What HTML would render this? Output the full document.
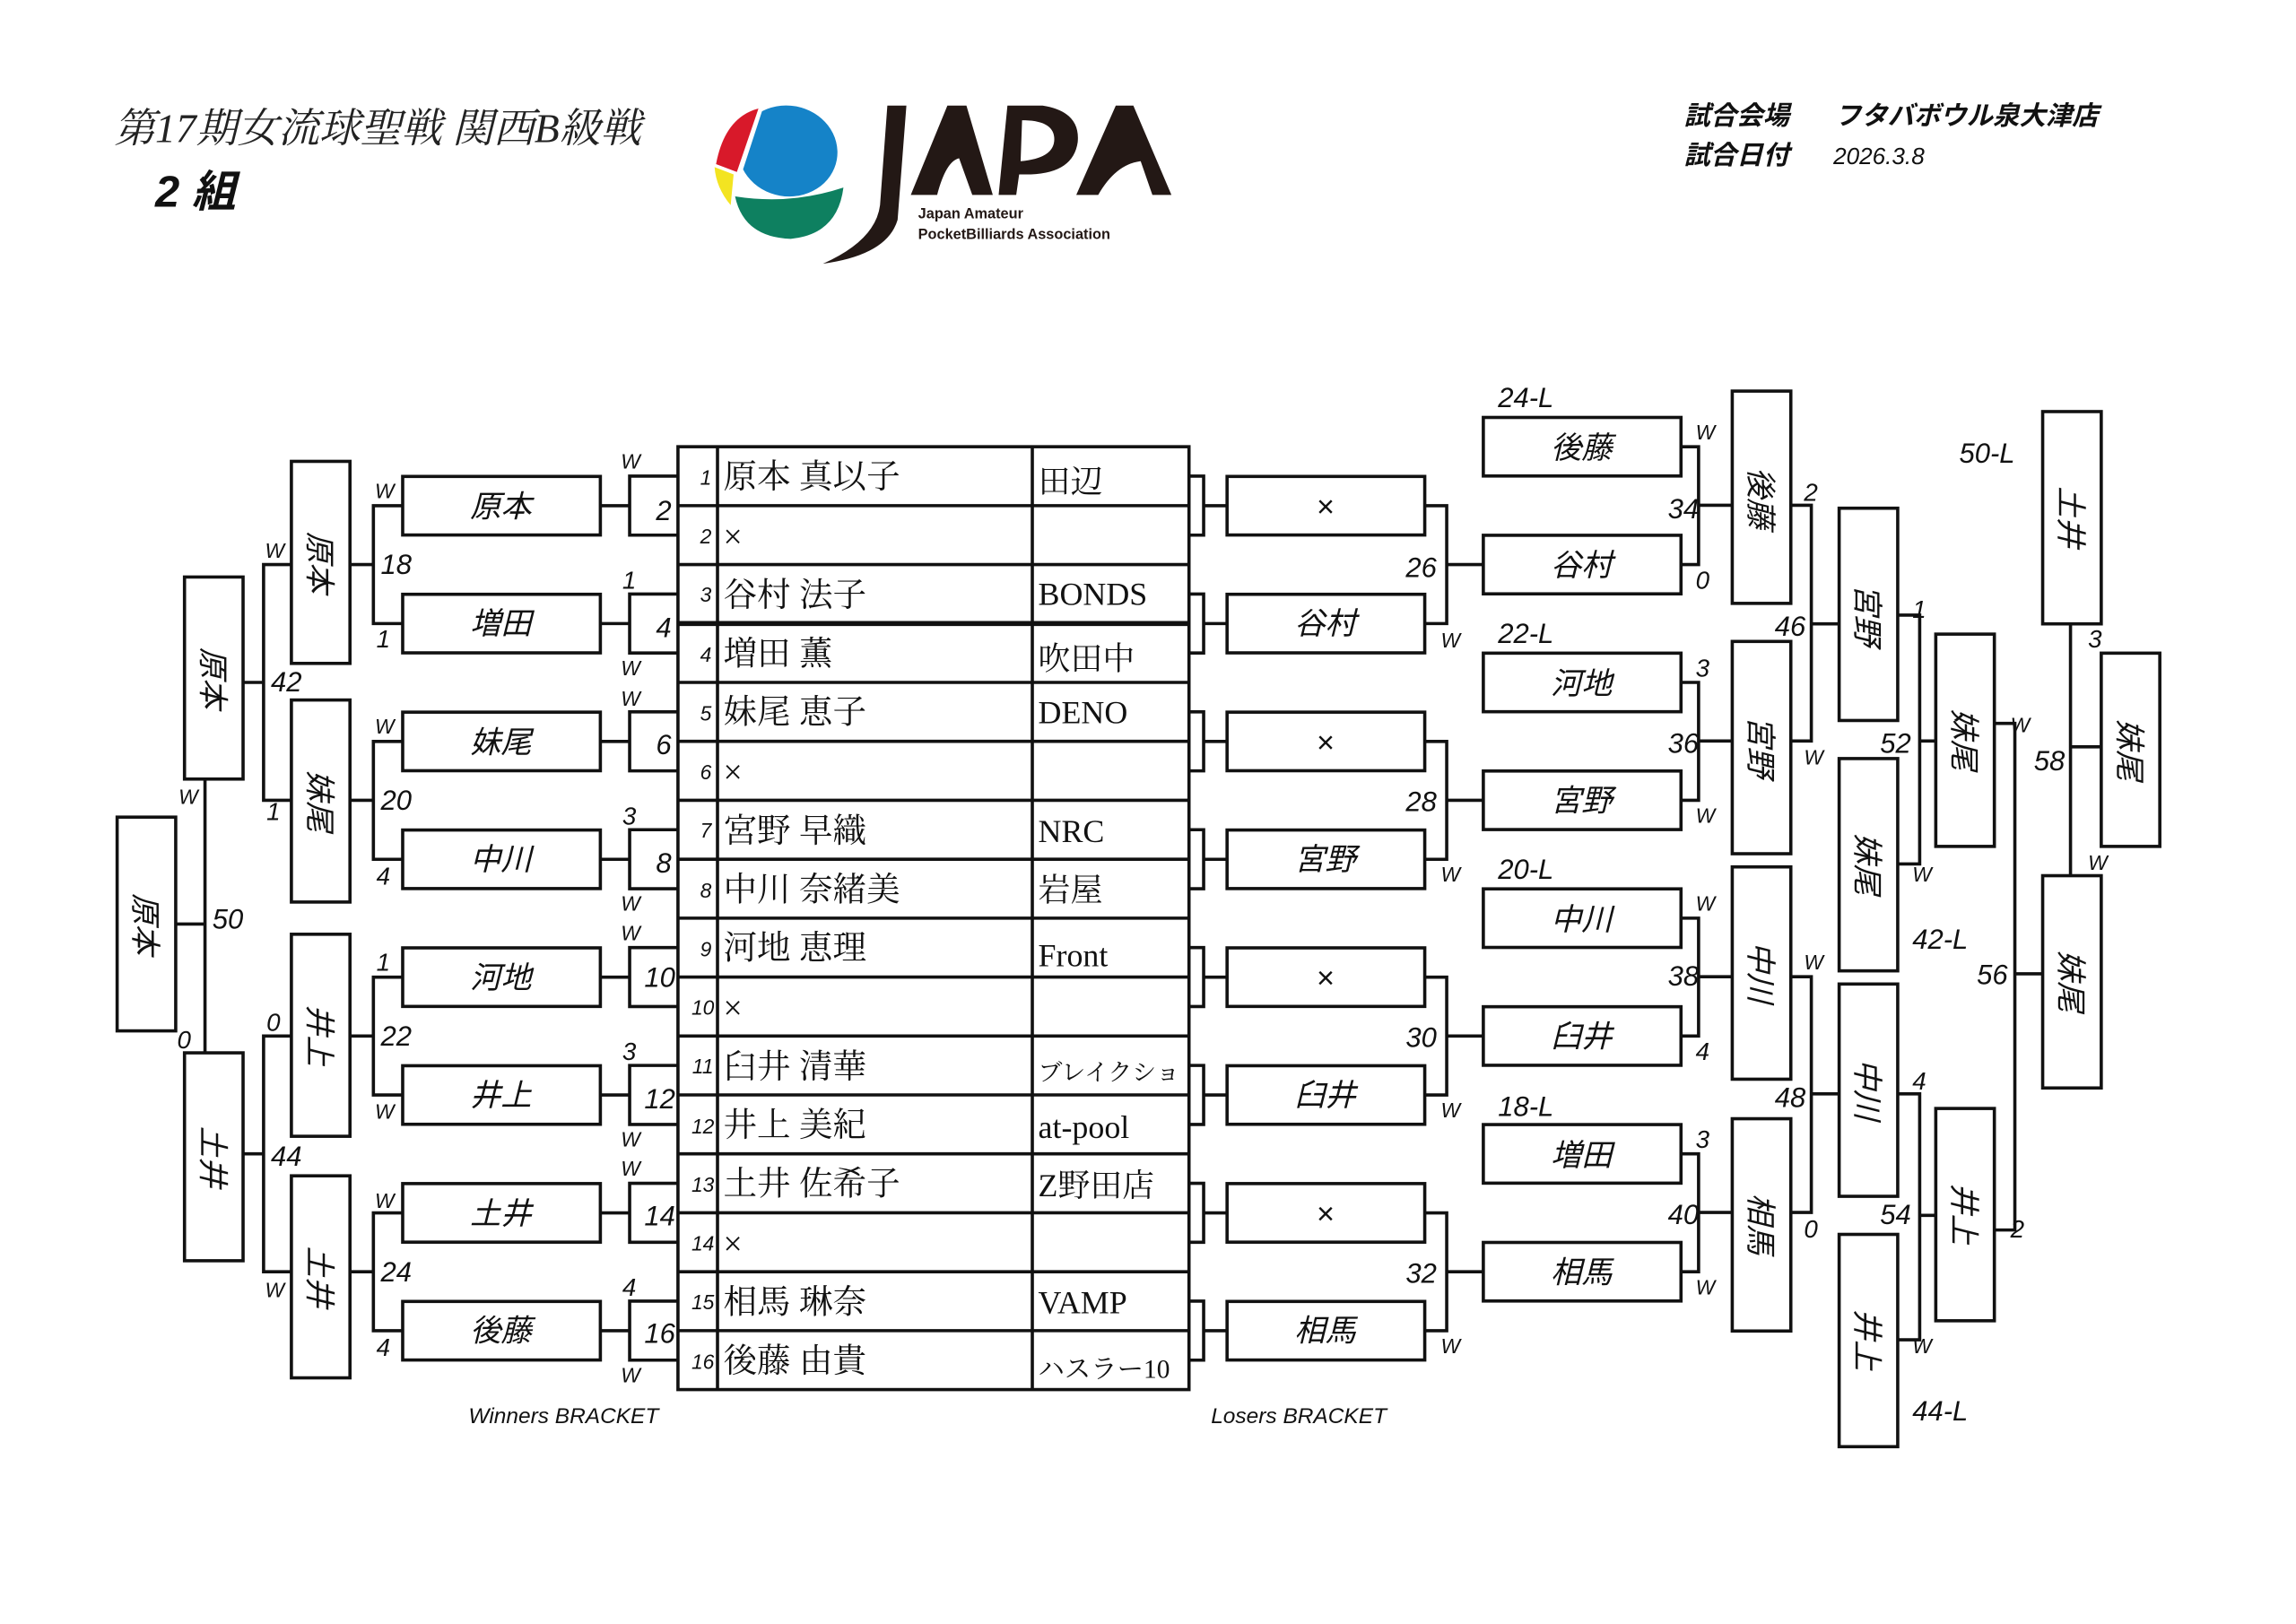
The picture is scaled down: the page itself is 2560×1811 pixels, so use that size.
<!DOCTYPE html>
<html><head><meta charset="utf-8"><style>
html,body{margin:0;padding:0;background:#fff;}
svg{display:block;}
.s{font-family:"Liberation Sans","Noto Sans CJK JP",sans-serif;font-style:italic;}
.m{font-family:"Liberation Serif","Noto Serif CJK JP",serif;}
</style></head><body>
<svg width="2560" height="1811" viewBox="0 0 1568 1109" xmlns="http://www.w3.org/2000/svg">
<rect width="1568" height="1109" fill="#fff"/>
<!-- header -->
<text x="78" y="97" class="m" font-size="28" font-style="italic" fill="#222">第17期女流球聖戦 関西B級戦</text>
<text x="106" y="141" class="s" font-size="30" font-weight="bold" fill="#111">2 組</text>
<text x="1150" y="85" class="s" font-size="18" font-weight="bold" fill="#111">試合会場</text>
<text x="1253" y="85" class="s" font-size="18" font-weight="bold" fill="#111">フタバボウル泉大津店</text>
<text x="1150" y="112" class="s" font-size="18" font-weight="bold" fill="#111">試合日付</text>
<text x="1252" y="112" class="s" font-size="16" fill="#111">2026.3.8</text>
<!-- logo -->
<g>
<ellipse cx="538" cy="103" rx="34" ry="31" fill="#1583c8" transform="rotate(10 538 103)"/>
<path d="M518 74 Q495 80 489 112 L505 118 Z" fill="#d8192a"/>
<path d="M488 114 L501 119 L499 140 Q489 128 488 114 Z" fill="#f3e421"/>
<path d="M502 134 Q540 140 576 128 Q572 160 540 163 Q508 162 502 134 Z" fill="#0e8060"/>
<path d="M503 118 L518 74 L521 74 L506 120 Z" fill="#fff"/>
<path d="M606 72 L619 72 L613 150 Q606 174 562 180 Q598 164 601 140 Z" fill="#231815"/>
<path d="M622 133 L647 72 L660 72 L678 133 L664 133 L655 108 Q646 110 640 133 Z" fill="#231815"/>
<path d="M682 133 L688 72 L712 72 Q738 76 736 97 Q733 118 704 119 L696 119 L694 133 Z M698 82 L697 110 Q720 108 720 95 Q720 82 698 82 Z" fill="#231815" fill-rule="evenodd"/>
<path d="M735 133 L762 72 L774 72 L800 133 L787 133 L779 110 Q762 112 750 133 Z" fill="#231815"/>
<text x="627" y="149" font-family="Liberation Sans,sans-serif" font-size="10" font-weight="bold" fill="#231815">Japan Amateur</text>
<text x="627" y="163" font-family="Liberation Sans,sans-serif" font-size="10" font-weight="bold" fill="#231815">PocketBilliards Association</text>
</g>
<!-- table -->
<g stroke="#111" stroke-width="2.2" fill="none">
<rect x="463" y="305" width="349" height="644"/>
<line x1="490" y1="305" x2="490" y2="949"/>
<line x1="705" y1="305" x2="705" y2="949"/>
<path d="M463 345.25H812M463 385.5H812M463 466H812M463 506.25H812M463 546.5H812M463 586.75H812M463 627H812M463 667.25H812M463 707.5H812M463 747.75H812M463 788H812M463 828.25H812M463 868.5H812M463 908.75H812"/>
<line x1="463" y1="425.75" x2="812" y2="425.75" stroke-width="3.5"/>
</g>
<g class="s" font-size="14" text-anchor="middle" fill="#111">
<text x="482" y="331">1</text><text x="482" y="371">2</text><text x="482" y="411">3</text><text x="482" y="452">4</text><text x="482" y="492">5</text><text x="482" y="532">6</text><text x="482" y="572">7</text><text x="482" y="613">8</text><text x="482" y="653">9</text><text x="480" y="693">10</text><text x="480" y="733">11</text><text x="480" y="774">12</text><text x="480" y="814">13</text><text x="480" y="854">14</text><text x="480" y="894">15</text><text x="480" y="935">16</text>
</g>
<g class="m" font-size="23" fill="#111">
<text x="494" y="333">原本 真以子</text><text x="494" y="374">×</text><text x="494" y="414">谷村 法子</text><text x="494" y="454">増田 薫</text><text x="494" y="494">妹尾 恵子</text><text x="494" y="535">×</text><text x="494" y="575">宮野 早織</text><text x="494" y="615">中川 奈緒美</text><text x="494" y="655">河地 恵理</text><text x="494" y="696">×</text><text x="494" y="736">臼井 清華</text><text x="494" y="776">井上 美紀</text><text x="494" y="816">土井 佐希子</text><text x="494" y="857">×</text><text x="494" y="897">相馬 琳奈</text><text x="494" y="937">後藤 由貴</text>
</g>
<g class="m" font-size="22" fill="#111">
<text x="709" y="336">田辺</text><text x="709" y="413">BONDS</text><text x="709" y="457">吹田中</text><text x="709" y="494">DENO</text><text x="709" y="575">NRC</text><text x="709" y="615">岩屋</text><text x="709" y="660">Front</text><text x="709" y="738" font-size="16.5">ブレイクショ</text><text x="709" y="777">at-pool</text><text x="709" y="817">Z野田店</text><text x="709" y="897">VAMP</text><text x="709" y="941" font-size="18">ハスラー10</text>
</g>
<!-- connectors -->
<g stroke="#111" stroke-width="2.2" fill="none">
<path d="M463 325.1H430V365.4H463M430 345.3H410"/>
<path d="M463 405.6H430V445.9H463M430 425.8H410"/>
<path d="M463 486.1H430V526.4H463M430 506.3H410"/>
<path d="M463 566.6H430V606.9H463M430 586.8H410"/>
<path d="M463 647.1H430V687.4H463M430 667.3H410"/>
<path d="M463 727.6H430V767.9H463M430 747.8H410"/>
<path d="M463 808.1H430V848.4H463M430 828.3H410"/>
<path d="M463 888.6H430V928.9H463M430 908.8H410"/>
<path d="M275 345.3H255V425.8H275M255 385.5H239"/>
<path d="M275 506.3H255V586.8H275M255 546.5H239"/>
<path d="M275 667.3H255V747.8H275M255 707.5H239"/>
<path d="M275 828.3H255V908.8H275M255 868.5H239"/>
<path d="M199 385.5H180V546.5H199M180 466H166"/>
<path d="M199 707.5H180V868.5H199M180 788H166"/>
<path d="M140 532V719M140 631H120"/>
<path d="M812 325.1H822V365.4H812M822 345.3H838"/>
<path d="M812 405.6H822V445.9H812M822 425.8H838"/>
<path d="M812 486.1H822V526.4H812M822 506.3H838"/>
<path d="M812 566.6H822V606.9H812M822 586.8H838"/>
<path d="M812 647.1H822V687.4H812M822 667.3H838"/>
<path d="M812 727.6H822V767.9H812M822 747.8H838"/>
<path d="M812 808.1H822V848.4H812M822 828.3H838"/>
<path d="M812 888.6H822V928.9H812M822 908.8H838"/>
<path d="M973 345.3H988V425.8H973M988 385.5H1013"/>
<path d="M973 506.3H988V586.8H973M988 546.5H1013"/>
<path d="M973 667.3H988V747.8H973M988 707.5H1013"/>
<path d="M973 828.3H988V908.8H973M988 868.5H1013"/>
<path d="M1148 305H1160V385.5H1148M1160 345H1183"/>
<path d="M1148 466H1160V546.5H1148M1160 506H1183"/>
<path d="M1148 627H1160V707.5H1148M1160 667H1183"/>
<path d="M1148 788H1160V868.5H1148M1160 828H1183"/>
<path d="M1223 345H1237V506H1223M1237 426H1256"/>
<path d="M1223 667H1237V828H1223M1237 747H1256"/>
<path d="M1296 420H1311V590H1296M1311 506H1322"/>
<path d="M1296 747H1311V915H1296M1311 830H1322"/>
<path d="M1362 494H1376V840H1362M1376 665H1395"/>
<path d="M1414 426V598M1414 510H1435"/>
</g>
<!-- boxes -->
<g stroke="#111" stroke-width="2.2" fill="#fff">
<rect x="275" y="325.3" width="135" height="40"/><rect x="275" y="405.8" width="135" height="40"/><rect x="275" y="486.3" width="135" height="40"/><rect x="275" y="566.8" width="135" height="40"/><rect x="275" y="647.3" width="135" height="40"/><rect x="275" y="727.8" width="135" height="40"/><rect x="275" y="808.3" width="135" height="40"/><rect x="275" y="888.8" width="135" height="40"/>
<rect x="199" y="315" width="40" height="138"/><rect x="199" y="478" width="40" height="138"/><rect x="199" y="638" width="40" height="138"/><rect x="199" y="803" width="40" height="138"/>
<rect x="126" y="394" width="40" height="138"/><rect x="126" y="719" width="40" height="142"/>
<rect x="80" y="558" width="40" height="146"/>
<rect x="838" y="325.3" width="135" height="40"/><rect x="838" y="405.8" width="135" height="40"/><rect x="838" y="486.3" width="135" height="40"/><rect x="838" y="566.8" width="135" height="40"/><rect x="838" y="647.3" width="135" height="40"/><rect x="838" y="727.8" width="135" height="40"/><rect x="838" y="808.3" width="135" height="40"/><rect x="838" y="888.8" width="135" height="40"/>
<rect x="1013" y="285" width="135" height="40"/><rect x="1013" y="365.5" width="135" height="40"/><rect x="1013" y="446" width="135" height="40"/><rect x="1013" y="526.5" width="135" height="40"/><rect x="1013" y="607" width="135" height="40"/><rect x="1013" y="687.5" width="135" height="40"/><rect x="1013" y="768" width="135" height="40"/><rect x="1013" y="848.5" width="135" height="40"/>
<rect x="1183" y="267" width="40" height="145"/><rect x="1183" y="438" width="40" height="145"/><rect x="1183" y="592" width="40" height="145"/><rect x="1183" y="764" width="40" height="145"/>
<rect x="1256" y="347" width="40" height="145"/><rect x="1256" y="518" width="40" height="145"/><rect x="1256" y="672" width="40" height="145"/><rect x="1256" y="843" width="40" height="145"/>
<rect x="1322" y="433" width="40" height="145"/><rect x="1322" y="757" width="40" height="145"/>
<rect x="1395" y="598" width="40" height="145"/><rect x="1395" y="281" width="40" height="145"/>
<rect x="1435" y="446" width="40" height="132"/>
</g>
<!-- box text horizontal -->
<g class="s" font-size="21" text-anchor="middle" fill="#111">
<text x="342" y="353">原本</text><text x="342" y="433">増田</text><text x="342" y="514">妹尾</text><text x="342" y="594">中川</text><text x="342" y="675">河地</text><text x="342" y="755">井上</text><text x="342" y="836">土井</text><text x="342" y="916">後藤</text>
<text x="905" y="353">×</text><text x="905" y="433">谷村</text><text x="905" y="514">×</text><text x="905" y="594">宮野</text><text x="905" y="675">×</text><text x="905" y="755">臼井</text><text x="905" y="836">×</text><text x="905" y="916">相馬</text>
<text x="1080" y="313">後藤</text><text x="1080" y="393">谷村</text><text x="1080" y="474">河地</text><text x="1080" y="554">宮野</text><text x="1080" y="635">中川</text><text x="1080" y="715">臼井</text><text x="1080" y="796">増田</text><text x="1080" y="876">相馬</text>
</g>
<!-- box text vertical -->
<g class="s" font-size="21" text-anchor="middle" fill="#111">
<text transform="translate(211 384) rotate(90)">原本</text>
<text transform="translate(211 547) rotate(90)">妹尾</text>
<text transform="translate(211 707) rotate(90)">井上</text>
<text transform="translate(211 872) rotate(90)">土井</text>
<text transform="translate(138 463) rotate(90)">原本</text>
<text transform="translate(138 790) rotate(90)">土井</text>
<text transform="translate(92 631) rotate(90)">原本</text>
<text transform="translate(1195 340) rotate(90)">後藤</text>
<text transform="translate(1195 510) rotate(90)">宮野</text>
<text transform="translate(1195 664) rotate(90)">中川</text>
<text transform="translate(1195 836) rotate(90)">相馬</text>
<text transform="translate(1268 420) rotate(90)">宮野</text>
<text transform="translate(1268 590) rotate(90)">妹尾</text>
<text transform="translate(1268 744) rotate(90)">中川</text>
<text transform="translate(1268 915) rotate(90)">井上</text>
<text transform="translate(1334 505) rotate(90)">妹尾</text>
<text transform="translate(1334 829) rotate(90)">井上</text>
<text transform="translate(1407 353) rotate(90)">土井</text>
<text transform="translate(1407 670) rotate(90)">妹尾</text>
<text transform="translate(1447 512) rotate(90)">妹尾</text>
</g>
<!-- scores / labels -->
<g class="s" font-size="19" fill="#111">
<text x="448" y="355">2</text><text x="448" y="435">4</text><text x="448" y="515">6</text><text x="448" y="596">8</text><text x="440" y="674">10</text><text x="440" y="757">12</text><text x="440" y="837">14</text><text x="440" y="917">16</text>
<text x="425" y="402" font-size="17">1</text><text x="425" y="563" font-size="17">3</text><text x="425" y="724" font-size="17">3</text><text x="425" y="885" font-size="17">4</text>
<text x="260" y="392">18</text><text x="260" y="553">20</text><text x="260" y="714">22</text><text x="260" y="875">24</text>
<text x="257" y="442" font-size="17">1</text><text x="257" y="604" font-size="17">4</text><text x="257" y="663" font-size="17">1</text><text x="257" y="926" font-size="17">4</text>
<text x="185" y="472">42</text><text x="182" y="560" font-size="17">1</text><text x="182" y="704" font-size="17">0</text><text x="185" y="796">44</text>
<text x="145" y="634">50</text><text x="121" y="716" font-size="17">0</text>
<text x="960" y="394">26</text><text x="960" y="554">28</text><text x="960" y="715">30</text><text x="960" y="876">32</text>
<text x="1139" y="354">34</text><text x="1139" y="514">36</text><text x="1139" y="673">38</text><text x="1139" y="836">40</text>
<text x="1158" y="402" font-size="17">0</text><text x="1158" y="462" font-size="17">3</text><text x="1158" y="724" font-size="17">4</text><text x="1158" y="784" font-size="17">3</text>
<text x="1212" y="434">46</text><text x="1212" y="756">48</text><text x="1232" y="342" font-size="17">2</text><text x="1232" y="845" font-size="17">0</text>
<text x="1284" y="514">52</text><text x="1284" y="836">54</text><text x="1306" y="422" font-size="17">1</text><text x="1306" y="744" font-size="17">4</text>
<text x="1350" y="672">56</text><text x="1373" y="845" font-size="17">2</text>
<text x="1389" y="526">58</text><text x="1426" y="442" font-size="17">3</text>
<text x="1023" y="278">24-L</text><text x="1023" y="439">22-L</text><text x="1023" y="600">20-L</text><text x="1023" y="762">18-L</text>
<text x="1306" y="648">42-L</text><text x="1306" y="970">44-L</text><text x="1338" y="316">50-L</text>
</g>
<g class="s" font-size="14" fill="#111">
<text x="424" y="320">W</text><text x="424" y="461">W</text><text x="424" y="482">W</text><text x="424" y="622">W</text><text x="424" y="642">W</text><text x="424" y="783">W</text><text x="424" y="803">W</text><text x="424" y="944">W</text>
<text x="256" y="340">W</text><text x="256" y="501">W</text><text x="256" y="764">W</text><text x="256" y="825">W</text>
<text x="181" y="381">W</text><text x="181" y="886">W</text><text x="122" y="549">W</text>
<text x="984" y="442">W</text><text x="984" y="602">W</text><text x="984" y="763">W</text><text x="984" y="924">W</text>
<text x="1158" y="300">W</text><text x="1158" y="562">W</text><text x="1158" y="622">W</text><text x="1158" y="884">W</text>
<text x="1232" y="522">W</text><text x="1232" y="662">W</text>
<text x="1306" y="602">W</text><text x="1306" y="924">W</text>
<text x="1373" y="500">W</text><text x="1426" y="594">W</text>
</g>
<text x="320" y="972" class="s" font-size="15" fill="#111">Winners BRACKET</text>
<text x="827" y="972" class="s" font-size="15" fill="#111">Losers BRACKET</text>
</svg>
</body></html>
